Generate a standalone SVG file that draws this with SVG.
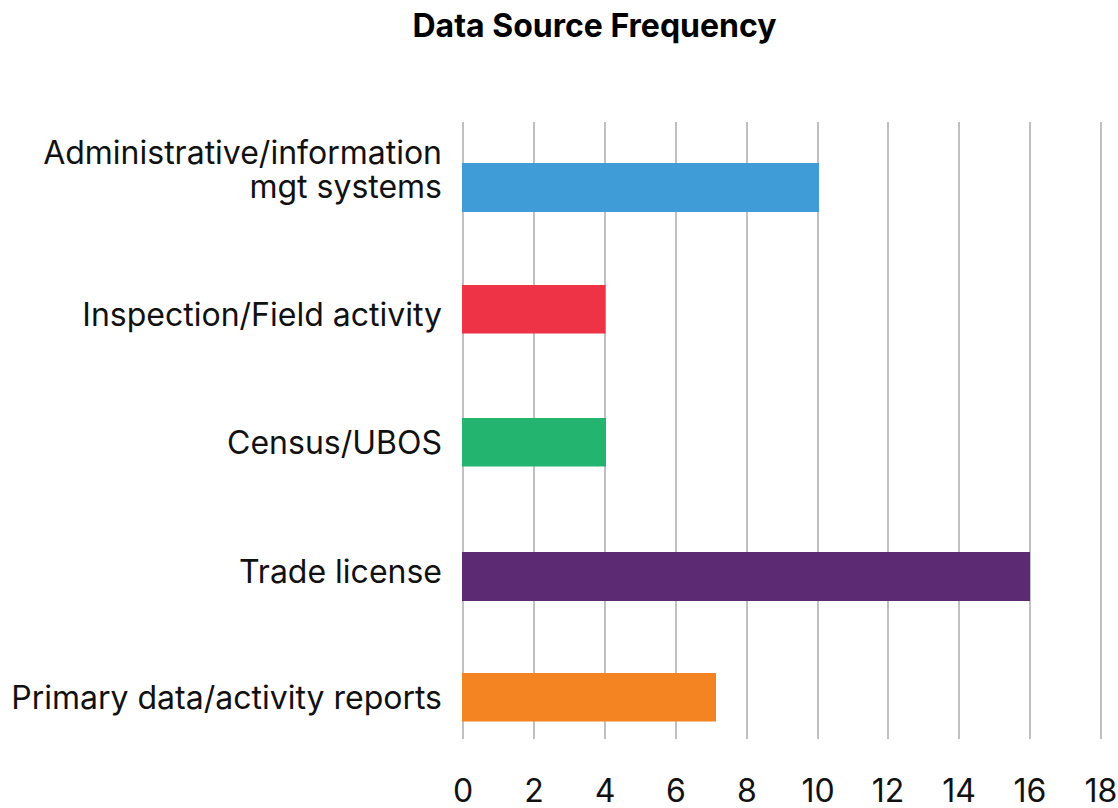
<svg xmlns="http://www.w3.org/2000/svg" width="1118" height="808" viewBox="0 0 1118 808">
  <style>
    .title { font-family: Inter, "Liberation Sans", sans-serif; font-weight: 700; font-size: 32px; fill: #000; }
    .lbl { font-family: Inter, "Liberation Sans", sans-serif; font-size: 32px; fill: #111; text-anchor: end; }
    .tick { font-family: Inter, "Liberation Sans", sans-serif; font-size: 32px; fill: #111; text-anchor: middle; }
    .grid line { stroke: #ababab; stroke-width: 1.5; }
  </style>
  <rect width="1118" height="808" fill="#fff"/>
  <text class="title" x="594.5" y="37" text-anchor="middle">Data Source Frequency</text>
  <g id="grid" class="grid">
    <line x1="463" y1="122" x2="463" y2="739"/>
    <line x1="534" y1="122" x2="534" y2="739"/>
    <line x1="605" y1="122" x2="605" y2="739"/>
    <line x1="676" y1="122" x2="676" y2="739"/>
    <line x1="747" y1="122" x2="747" y2="739"/>
    <line x1="818" y1="122" x2="818" y2="739"/>
    <line x1="888" y1="122" x2="888" y2="739"/>
    <line x1="959" y1="122" x2="959" y2="739"/>
    <line x1="1030" y1="122" x2="1030" y2="739"/>
    <line x1="1101" y1="122" x2="1101" y2="739"/>
  </g>
  <g id="ticks">
    <text class="tick" x="463" y="802">0</text>
    <text class="tick" x="534" y="802">2</text>
    <text class="tick" x="605" y="802">4</text>
    <text class="tick" x="676" y="802">6</text>
    <text class="tick" x="747" y="802">8</text>
    <text class="tick" x="818" y="802">10</text>
    <text class="tick" x="888" y="802">12</text>
    <text class="tick" x="959" y="802">14</text>
    <text class="tick" x="1030" y="802">16</text>
    <text class="tick" x="1101" y="802">18</text>
  </g>
  <g id="bar-admin">
    <rect x="462" y="163" width="357" height="49" fill="#409cd7"/>
    <text class="lbl"><tspan x="442" y="164">Administrative/information</tspan><tspan x="442" y="198">mgt systems</tspan></text>
  </g>
  <g id="bar-inspection">
    <rect x="462" y="285" width="143.5" height="48.5" fill="#ee3346"/>
    <text class="lbl" x="442" y="326">Inspection/Field activity</text>
  </g>
  <g id="bar-census">
    <rect x="462" y="418" width="144" height="48.5" fill="#23b46f"/>
    <text class="lbl" x="442" y="454">Census/UBOS</text>
  </g>
  <g id="bar-trade">
    <rect x="462" y="552" width="568" height="49" fill="#5b2a73"/>
    <text class="lbl" x="442" y="583">Trade license</text>
  </g>
  <g id="bar-primary">
    <rect x="462" y="673" width="254" height="48.5" fill="#f48422"/>
    <text class="lbl" x="442" y="709">Primary data/activity reports</text>
  </g>
</svg>
